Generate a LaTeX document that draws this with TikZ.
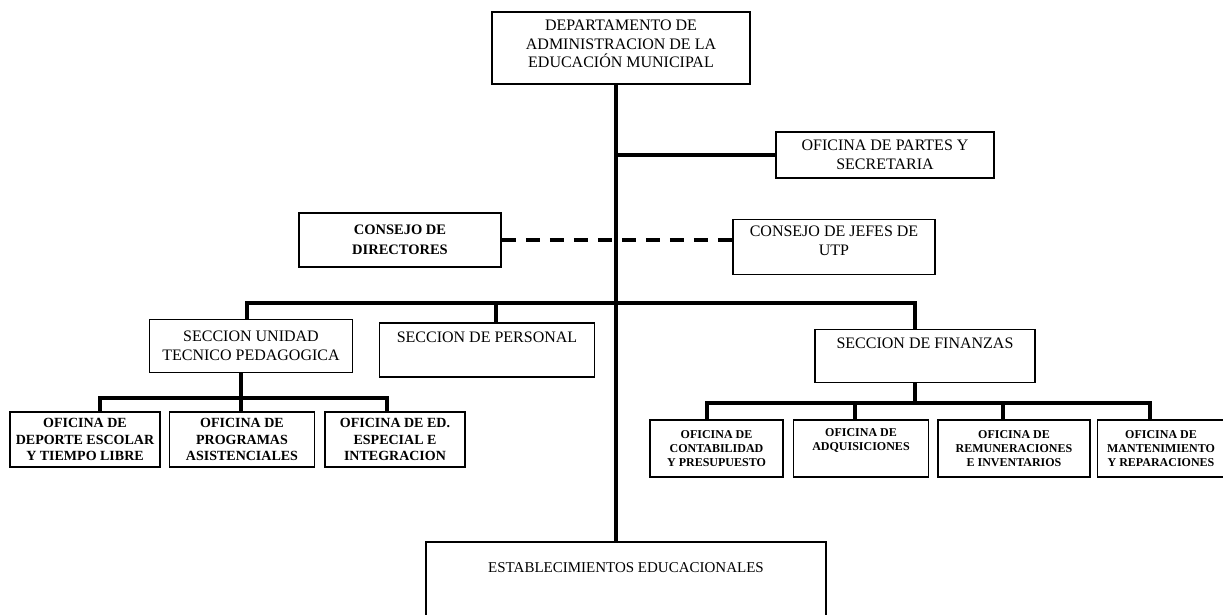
\documentclass[tikz,border=0pt]{standalone}
\usepackage{fontspec}
\setmainfont{Liberation Serif}
\usetikzlibrary{calc}
\usetikzlibrary{positioning}
\tikzset{
    between/.style args={#1 and #2}{
    	at = ($(#1)!0.5!(#2)$)
    }
}

\begin{document}
\begin{tikzpicture}[
        x=1pt, y=-1pt,
        unit/.style={rectangle, draw=black, line width=1.5pt, align=center, inner sep=1pt},
        dept/.style={unit, font=\fontsize{16}{18.5}\selectfont},
        sect/.style={unit, font=\fontsize{16}{19}\selectfont},
        board/.style={unit, font=\bfseries\fontsize{14.5}{20}\selectfont},
        office/.style={unit, font=\bfseries\fontsize{14}{16.5}\selectfont},
        subofc/.style={unit, font=\bfseries\fontsize{12}{14}\selectfont},
        link/.style={line width=4.2pt},
    ]
    \useasboundingbox (0,0) rectangle (1223,615);

    \node[dept, minimum width=258pt, minimum height=72pt]  (D1)  at (621,48)    {DEPARTAMENTO DE\\ADMINISTRACION DE LA\\EDUCACIÓN MUNICIPAL\\[-10pt]};
    \node[sect, minimum width=218pt, minimum height=46pt]  (P1)  at (885,155)   {OFICINA DE PARTES Y\\SECRETARIA};
    \node[board, minimum width=202pt, minimum height=54pt] (C1)  at (400,240)   {CONSEJO DE\\DIRECTORES};
    \node[sect, minimum width=202pt, minimum height=55pt]  (C2)  at (834,247)   {CONSEJO DE JEFES DE\\UTP\\[-6pt]};

    \node[sect, minimum width=203pt, minimum height=53pt]  (S1)  at (251,346)   {SECCION UNIDAD\\TECNICO PEDAGOGICA};
    \node[sect, minimum width=215pt, minimum height=54pt]  (S2)  at (487,350)   {SECCION DE PERSONAL\\\strut};
    \node[sect, minimum width=220pt, minimum height=53pt]  (S3)  at (925,356)   {SECCION DE FINANZAS\\\strut};

    \node[office, minimum width=150pt, minimum height=55pt] (F1) at (85,439.5)  {OFICINA DE\\DEPORTE ESCOLAR\\Y TIEMPO LIBRE};
    \node[office, minimum width=145pt, minimum height=55pt] (F2) [right=8pt of F1] {OFICINA DE\\PROGRAMAS\\ASISTENCIALES};
    \node[office, minimum width=140pt, minimum height=55pt] (F3) [right=9pt of F2] {OFICINA DE ED.\\ESPECIAL E\\INTEGRACION};

    \node[subofc, minimum width=133pt, minimum height=57pt] (G1) at (716.5,448.5) {OFICINA DE\\CONTABILIDAD\\Y PRESUPUESTO};
    \node[subofc, minimum width=135pt, minimum height=57pt] (G2) [right=9pt of G1] {OFICINA DE\\ADQUISICIONES\\\strut};
    \node[subofc, minimum width=152pt, minimum height=57pt] (G3) [right=8pt of G2] {OFICINA DE\\REMUNERACIONES\\E INVENTARIOS};
    \node[subofc, minimum width=127pt, minimum height=57pt] (G4) [right=6pt of G3] {OFICINA DE\\MANTENIMIENTO\\Y REPARACIONES};

    \node[unit, minimum width=400pt, minimum height=76pt, font=\fontsize{15}{18}\selectfont] (E1) at (626,580) {ESTABLECIMIENTOS EDUCACIONALES\\[6pt]};

    % trunk and main bus
    \coordinate (T1) at (616,303);
    \coordinate (B1) at (247,303);
    \coordinate (B2) at (496,303);
    \coordinate (B3) at (915,303);

    \draw[link] (D1.south -| T1) -- (E1.north -| T1);
    \draw[link] (P1.west -| T1)  -- (P1.west);
    \draw[link, dash pattern=on 14pt off 10pt] (C1.east) -- (C1.east -| C2.west);

    \draw[link] (S1.north -| B1) -- (B1) -- (B3) -- (S3.north -| B3);
    \draw[link] (B2) -- (S2.north -| B2);

    % left offices
    \coordinate (L1) at (100,398);
    \coordinate (L2) at (241,398);
    \coordinate (L3) at (387,398);

    \draw[link] (F1.north -| L1) -- (L1) -- (L3) -- (F3.north -| L3);
    \draw[link] (S1.south -| L2) -- (F2.north -| L2);

    % right offices
    \coordinate (R0) at (915,403);
    \coordinate (R1) at (707,403);
    \coordinate (R2) at (855,403);
    \coordinate (R3) at (1003,403);
    \coordinate (R4) at (1150,403);

    \draw[link] (G1.north -| R1) -- (R1) -- (R4) -- (G4.north -| R4);
    \draw[link] (R2) -- (G2.north -| R2);
    \draw[link] (R3) -- (G3.north -| R3);
    \draw[link] (S3.south -| R0) -- (R0);
\end{tikzpicture}
\end{document}
